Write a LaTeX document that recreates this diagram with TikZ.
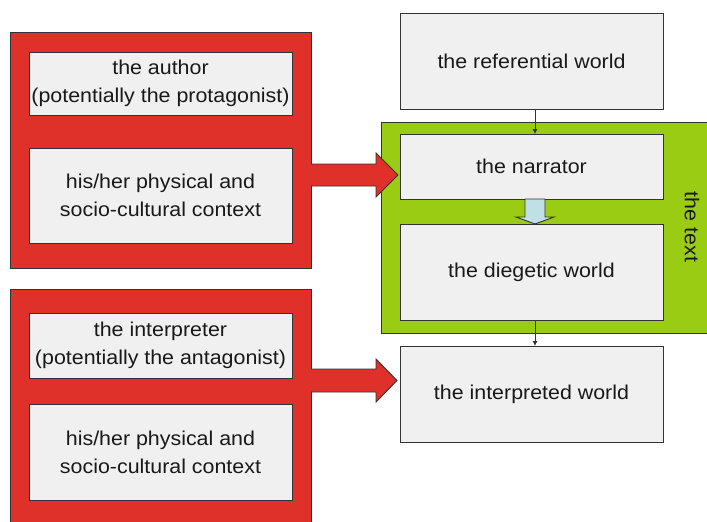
\documentclass[tikz,border=0pt]{standalone}
\usepackage{fontspec}
\setmainfont{Liberation Sans}[FakeStretch=1.07]
\usetikzlibrary{calc,arrows.meta}
\definecolor{boxred}{HTML}{E0302A}
\definecolor{boxgreen}{HTML}{99CC12}
\definecolor{boxgray}{HTML}{EFF0EF}
\definecolor{arrowblue}{HTML}{BFE0E6}
\definecolor{edge}{HTML}{333333}
\tikzset{
  panel/.style={draw=edge, line width=0.9pt, inner sep=0pt, outer sep=0pt},
  redpanel/.style={panel, fill=boxred},
  greenpanel/.style={panel, fill=boxgreen},
  textbox/.style={panel, fill=boxgray, align=center, text=black!90,
    font=\fontsize{20}{28}\selectfont},
  conn/.style={draw=edge, line width=0.8pt, -{Latex[length=5pt,width=5pt]}},
  bigarrow/.style={draw=edge, line width=0.9pt, fill=boxred, line join=miter},
}
\begin{document}
\begin{tikzpicture}[x=1pt,y=-1pt]
\useasboundingbox (0,0) rectangle (707,522);
\clip (0,0) rectangle (707,522);

% left column: author and interpreter panels
\node[redpanel, minimum width=301, minimum height=236] (red1) at (160.5,150) {};
\node[textbox, minimum width=263, minimum height=63] (author) at (160.5,83.5)
  {the author\\(potentially the protagonist)};
\node[textbox, minimum width=263, minimum height=95] (ctx1) at (160.5,195.5)
  {his/her physical and\\socio-cultural context};

\node[redpanel, minimum width=301, minimum height=250] (red2) at (160.5,414) {};
\node[textbox, minimum width=263, minimum height=65] (interp) at (160.5,345.5)
  {the interpreter\\(potentially the antagonist)};
\node[textbox, minimum width=263, minimum height=96] (ctx2) at (160.5,452)
  {his/her physical and\\socio-cultural context};

% right column: worlds and the text
\node[textbox, minimum width=263, minimum height=96] (ref) at (531.5,61)
  {the referential world};
\node[greenpanel, minimum width=339, minimum height=211] (text) at (550.5,227.5) {};
\node[textbox, minimum width=263, minimum height=65] (narrator) at (531.5,166.5)
  {the narrator};
\node[textbox, minimum width=263, minimum height=96] (diegetic) at (531.5,272)
  {the diegetic world};
\node[textbox, minimum width=263, minimum height=96] (interpreted) at (531.5,394)
  {the interpreted world};
\node[rotate=-90, font=\fontsize{20}{24}\selectfont, text=black!90] (textlabel)
  at (692,227) {the text};

% thin connectors
\draw[conn] ([xshift=3.5pt]ref.south) -- ([xshift=3.5pt]narrator.north);
\draw[conn] ([xshift=3.5pt]diegetic.south) -- ([xshift=3.5pt]interpreted.north);

% light blue block arrow from narrator to diegetic world
\coordinate (bt) at ([xshift=3.5pt]narrator.south);
\draw[draw=edge, line width=0.9pt, fill=arrowblue]
  ($(bt)+(-10,0)$) -- ($(bt)+(10,0)$) -- ($(bt)+(10,18)$) -- ($(bt)+(19,18)$)
  -- ($(bt)+(0,25)$) -- ($(bt)+(-19,18)$) -- ($(bt)+(-10,18)$) -- cycle;

% red block arrows into the right column
\coordinate (a1) at (red1.east |- 0,175);
\draw[bigarrow] ($(a1)+(0,-11)$) -- ($(a1)+(65,-11)$) -- ($(a1)+(65,-22)$)
  -- ($(a1)+(87,0)$) -- ($(a1)+(65,22)$) -- ($(a1)+(65,11)$) -- ($(a1)+(0,11)$);
\coordinate (a2) at (red2.east |- 0,380.5);
\draw[bigarrow] ($(a2)+(0,-11.5)$) -- ($(a2)+(65,-11.5)$) -- ($(a2)+(65,-21.5)$)
  -- ($(a2)+(86,0)$) -- ($(a2)+(65,21.5)$) -- ($(a2)+(65,11.5)$) -- ($(a2)+(0,11.5)$);
\end{tikzpicture}
\end{document}
